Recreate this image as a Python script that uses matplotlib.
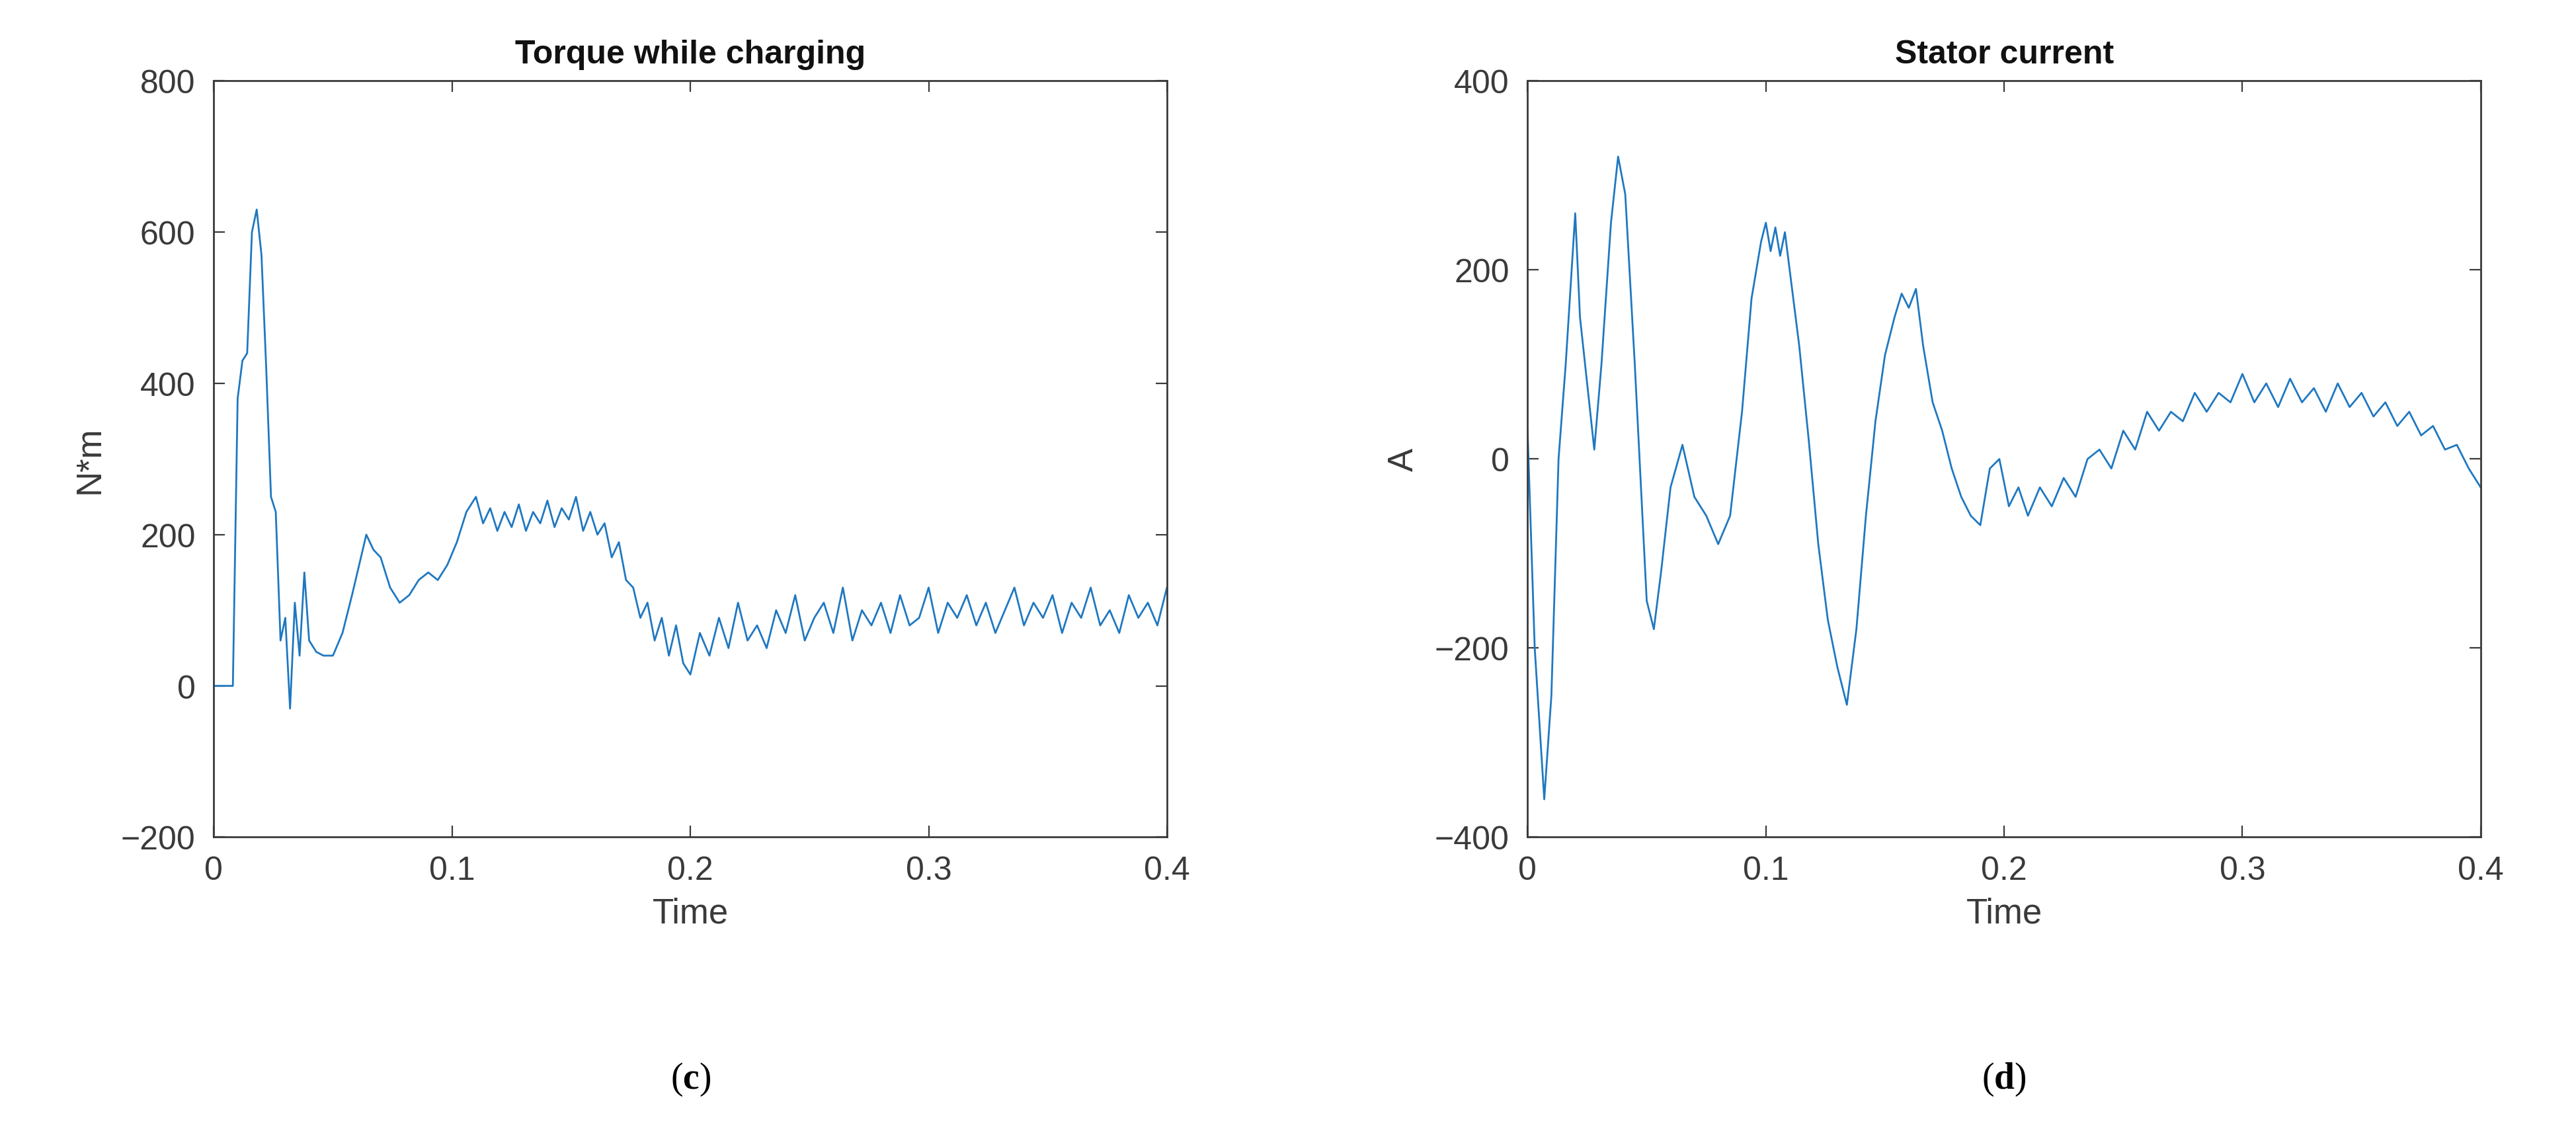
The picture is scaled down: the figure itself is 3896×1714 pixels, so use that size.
import matplotlib
matplotlib.use("Agg")
import matplotlib.pyplot as plt

plt.rcParams['font.family'] = ['Liberation Sans', 'DejaVu Sans']
plt.rcParams['mathtext.fontset'] = 'custom'
plt.rcParams['mathtext.bf'] = 'Liberation Serif:bold'
plt.rcParams['mathtext.rm'] = 'Liberation Serif'

# Torque while charging
t_torque = [0, 0.004, 0.008, 0.010, 0.012, 0.014, 0.016, 0.018, 0.020, 0.022, 0.024, 0.026, 0.028,
            0.030, 0.032, 0.034, 0.036, 0.038, 0.040, 0.043, 0.046, 0.050, 0.054, 0.058, 0.061, 0.064,
            0.067, 0.070, 0.074, 0.078, 0.082, 0.086, 0.090, 0.094, 0.098, 0.102, 0.106, 0.110, 0.113,
            0.116, 0.119, 0.122, 0.125, 0.128, 0.131, 0.134, 0.137, 0.140, 0.143, 0.146, 0.149, 0.152,
            0.155, 0.158, 0.161, 0.164, 0.167, 0.170, 0.173, 0.176, 0.179, 0.182, 0.185, 0.188, 0.191,
            0.194, 0.197, 0.200, 0.204, 0.208, 0.212, 0.216, 0.220, 0.224, 0.228, 0.232, 0.236, 0.240,
            0.244, 0.248, 0.252, 0.256, 0.260, 0.264, 0.268, 0.272, 0.276, 0.280, 0.284, 0.288, 0.292,
            0.296, 0.300, 0.304, 0.308, 0.312, 0.316, 0.320, 0.324, 0.328, 0.332, 0.336, 0.340, 0.344,
            0.348, 0.352, 0.356, 0.360, 0.364, 0.368, 0.372, 0.376, 0.380, 0.384, 0.388, 0.392, 0.396, 0.400]
torque = [0, 0, 0, 380, 430, 440, 600, 630, 570, 420, 250, 230, 60,
          90, -30, 110, 40, 150, 60, 45, 40, 40, 70, 120, 160, 200,
          180, 170, 130, 110, 120, 140, 150, 140, 160, 190, 230, 250, 215,
          235, 205, 230, 210, 240, 205, 230, 215, 245, 210, 235, 220, 250,
          205, 230, 200, 215, 170, 190, 140, 130, 90, 110, 60, 90, 40,
          80, 30, 15, 70, 40, 90, 50, 110, 60, 80, 50, 100, 70,
          120, 60, 90, 110, 70, 130, 60, 100, 80, 110, 70, 120, 80,
          90, 130, 70, 110, 90, 120, 80, 110, 70, 100, 130, 80, 110,
          90, 120, 70, 110, 90, 130, 80, 100, 70, 120, 90, 110, 80, 130]

# Stator current
t_current = [0, 0.003, 0.007, 0.010, 0.013, 0.016, 0.020, 0.022, 0.025, 0.028, 0.031, 0.035, 0.038,
             0.041, 0.045, 0.050, 0.053, 0.056, 0.060, 0.065, 0.070, 0.075, 0.080, 0.085, 0.090,
             0.094, 0.098, 0.100, 0.102, 0.104, 0.106, 0.108, 0.110, 0.114, 0.118, 0.122, 0.126, 0.130,
             0.134, 0.138, 0.142, 0.146, 0.150, 0.154, 0.157, 0.160, 0.163, 0.166, 0.170, 0.174, 0.178,
             0.182, 0.186, 0.190, 0.194, 0.198, 0.202, 0.206, 0.210, 0.215, 0.220, 0.225, 0.230, 0.235,
             0.240, 0.245, 0.250, 0.255, 0.260, 0.265, 0.270, 0.275, 0.280, 0.285, 0.290, 0.295, 0.300,
             0.305, 0.310, 0.315, 0.320, 0.325, 0.330, 0.335, 0.340, 0.345, 0.350, 0.355, 0.360, 0.365,
             0.370, 0.375, 0.380, 0.385, 0.390, 0.395, 0.400]
current = [30, -200, -360, -250, 0, 100, 260, 150, 80, 10, 100, 250, 320,
           280, 100, -150, -180, -120, -30, 15, -40, -60, -90, -60, 50,
           170, 230, 250, 220, 245, 215, 240, 200, 120, 20, -90, -170, -220,
           -260, -180, -60, 40, 110, 150, 175, 160, 180, 120, 60, 30, -10,
           -40, -60, -70, -10, 0, -50, -30, -60, -30, -50, -20, -40, 0,
           10, -10, 30, 10, 50, 30, 50, 40, 70, 50, 70, 60, 90,
           60, 80, 55, 85, 60, 75, 50, 80, 55, 70, 45, 60, 35,
           50, 25, 35, 10, 15, -10, -30]

line_color = '#1f78c1'
axis_color = '#3a3a3a'

fig = plt.figure(figsize=(19.48, 8.575), dpi=200)
ax1 = fig.add_axes([0.083, 0.261, 0.370, 0.667])
ax2 = fig.add_axes([0.593, 0.261, 0.370, 0.667])

for ax, t, y, title, ylab, ylim, yt in [
        (ax1, t_torque, torque, 'Torque while charging', 'N*m', (-200, 800), [-200, 0, 200, 400, 600, 800]),
        (ax2, t_current, current, 'Stator current', 'A', (-400, 400), [-400, -200, 0, 200, 400])]:
    ax.plot(t, y, color=line_color, linewidth=1.0)
    ax.set_xlim(0, 0.4)
    ax.set_ylim(*ylim)
    ax.set_xticks([0, 0.1, 0.2, 0.3, 0.4])
    ax.set_xticklabels(['0', '0.1', '0.2', '0.3', '0.4'])
    ax.set_yticks(yt)
    ax.set_yticklabels([str(v).replace('-', '\u2212') for v in yt])
    ax.set_title(title, fontsize=18, fontweight='bold', color='#111111', pad=10)
    ax.set_xlabel('Time', fontsize=19, color=axis_color, labelpad=6)
    ax.set_ylabel(ylab, fontsize=19, color=axis_color, labelpad=8)
    ax.tick_params(direction='in', labelsize=18, colors=axis_color, length=6, top=True, right=True, pad=10)
    for s in ax.spines.values():
        s.set_color(axis_color)
        s.set_linewidth(1.0)

fig.text(0.268, 0.04, r'($\mathbf{c}$)', ha='center', fontsize=20, family=['Liberation Serif', 'DejaVu Serif'])
fig.text(0.778, 0.04, r'($\mathbf{d}$)', ha='center', fontsize=20, family=['Liberation Serif', 'DejaVu Serif'])
fig.savefig('out.png', dpi=200, facecolor='white')
